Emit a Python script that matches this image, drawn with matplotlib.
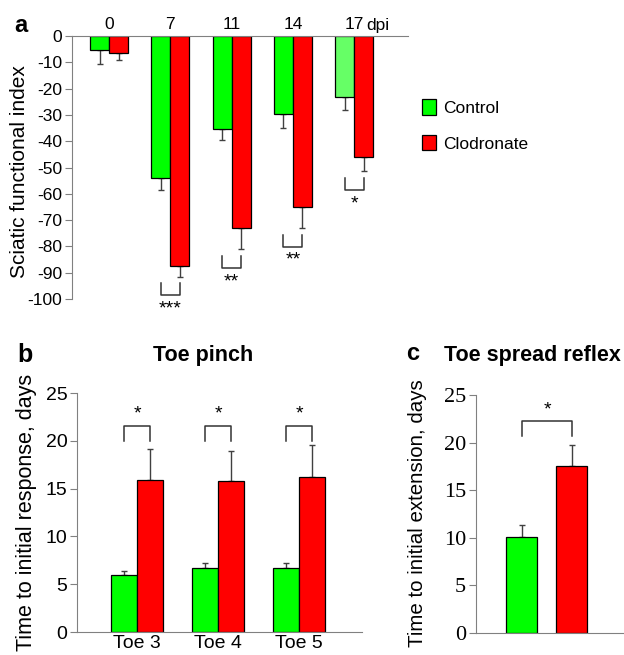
import matplotlib
matplotlib.use('Agg')
import matplotlib.pyplot as plt
from matplotlib.patches import Patch

plt.rcParams['font.family'] = 'Liberation Sans'
plt.rcParams['axes.unicode_minus'] = False

# Panel a: sciatic functional index
days = ['0', '7', '11', '14', '17']
sfi_control = [-5.5, -54, -35.5, -29.5, -23]
sfi_control_err = [5, 4.5, 4, 5.5, 5]
sfi_clodronate = [-6.5, -87.5, -73, -65, -46]
sfi_clodronate_err = [2.5, 4, 8, 8, 5.5]
sfi_stars = ['', '***', '**', '**', '*']

# Panel b: toe pinch
toes = ['Toe 3', 'Toe 4', 'Toe 5']
pinch_control = [6.0, 6.7, 6.7]
pinch_control_err = [0.4, 0.5, 0.5]
pinch_clodronate = [15.9, 15.8, 16.2]
pinch_clodronate_err = [3.2, 3.1, 3.4]
pinch_stars = ['*', '*', '*']

# Panel c: toe spread reflex
spread_control = [10.1]
spread_control_err = [1.2]
spread_clodronate = [17.5]
spread_clodronate_err = [2.2]
spread_stars = ['*']

green = '#00ff00'
light_green = '#66ff66'
red = '#ff0000'
gray = '#808080'
errc = '#404040'

fig = plt.figure(figsize=(6.24, 6.55), dpi=100)

# ---------------- panel a ----------------
ax1 = fig.add_axes([0.1154, 0.5435, 0.5385, 0.4015])
x = list(range(len(days)))
w = 0.31
ctrl_colors = [green] * (len(days) - 1) + [light_green]
ax1.bar([i - w / 2 for i in x], sfi_control, w, color=ctrl_colors, edgecolor='black', linewidth=0.9, zorder=2)
ax1.bar([i + w / 2 for i in x], sfi_clodronate, w, color=red, edgecolor='black', linewidth=0.9, zorder=2)
ax1.errorbar([i - w / 2 for i in x], sfi_control, yerr=[sfi_control_err, [0] * len(x)], fmt='none',
             ecolor=errc, elinewidth=1, capsize=2.5, capthick=1, zorder=1)
ax1.errorbar([i + w / 2 for i in x], sfi_clodronate, yerr=[sfi_clodronate_err, [0] * len(x)], fmt='none',
             ecolor=errc, elinewidth=1, capsize=2.5, capthick=1, zorder=1)

# significance brackets (opening upward, below the bars)
for i, s in enumerate(sfi_stars):
    if not s:
        continue
    top = sfi_clodronate[i] - sfi_clodronate_err[i] - 2.5
    bot = top - 4.6
    ax1.plot([i - w / 2, i - w / 2, i + w / 2, i + w / 2], [top, bot, bot, top], color='#333333', lw=1.1)
    ax1.text(i, bot - 2.0, s, ha='center', va='top', fontsize=14)

ax1.set_xlim(-0.604, 4.88)
ax1.set_ylim(-100, 0)
ax1.set_yticks(range(-100, 1, 10))
ax1.xaxis.tick_top()
ax1.set_xticks(x)
ax1.set_xticklabels(days)
ax1.tick_params(axis='x', length=0, labelsize=12.5, pad=3)
ax1.tick_params(axis='y', length=5, color=gray, labelsize=12.5, pad=2)
ax1.text(4.2, 1.2, 'dpi', ha='left', va='bottom', fontsize=12.5)
for sp in ['right', 'bottom']:
    ax1.spines[sp].set_visible(False)
for sp in ['left', 'top']:
    ax1.spines[sp].set_color(gray)
ax1.set_ylabel('Sciatic functional index', fontsize=15)
ax1.yaxis.set_label_coords(-0.128, 0.485)

handles = [Patch(facecolor=green, edgecolor='black', linewidth=0.9, label='Control'),
           Patch(facecolor=red, edgecolor='black', linewidth=0.9, label='Clodronate')]
fig.legend(handles=handles, loc='upper left', bbox_to_anchor=(422 / 624, 1 - 99 / 655), frameon=False,
           fontsize=12.5, handlelength=0.78, handleheight=1.0, handletextpad=0.45, labelspacing=1.1,
           borderpad=0, borderaxespad=0)

# ---------------- panel b ----------------
ax2 = fig.add_axes([0.1234, 0.0351, 0.4567, 0.3649])
xb = list(range(len(toes)))
wb = 0.32
ax2.bar([i - wb / 2 for i in xb], pinch_control, wb, color=green, edgecolor='black', linewidth=0.9, zorder=2)
ax2.bar([i + wb / 2 for i in xb], pinch_clodronate, wb, color=red, edgecolor='black', linewidth=0.9, zorder=2)
ax2.errorbar([i - wb / 2 for i in xb], pinch_control, yerr=[[0] * len(xb), pinch_control_err], fmt='none',
             ecolor=errc, elinewidth=1, capsize=2.5, capthick=1, zorder=1)
ax2.errorbar([i + wb / 2 for i in xb], pinch_clodronate, yerr=[[0] * len(xb), pinch_clodronate_err], fmt='none',
             ecolor=errc, elinewidth=1, capsize=2.5, capthick=1, zorder=1)
for i, s in enumerate(pinch_stars):
    ax2.plot([i - wb / 2, i - wb / 2, i + wb / 2, i + wb / 2], [20.0, 21.5, 21.5, 20.0], color='#333333', lw=1.1)
    ax2.text(i, 21.9, s, ha='center', va='bottom', fontsize=14)
ax2.set_xlim(-0.741, 2.778)
ax2.set_ylim(0, 25)
ax2.set_yticks(range(0, 26, 5))
ax2.set_xticks(xb)
ax2.set_xticklabels(toes)
ax2.tick_params(axis='x', length=0, labelsize=14, pad=2)
ax2.tick_params(axis='y', length=5, color=gray, labelsize=14, pad=2)
for sp in ['right', 'top']:
    ax2.spines[sp].set_visible(False)
for sp in ['left', 'bottom']:
    ax2.spines[sp].set_color(gray)
ax2.set_ylabel('Time to initial response, days', fontsize=15.5)
ax2.yaxis.set_label_coords(-0.139, 0.5)

# ---------------- panel c ----------------
ax3 = fig.add_axes([0.7628, 0.0336, 0.2372, 0.3634])
wc = 0.62
ax3.bar([0], spread_control, wc, color=green, edgecolor='black', linewidth=0.9, zorder=2)
ax3.bar([1], spread_clodronate, wc, color=red, edgecolor='black', linewidth=0.9, zorder=2)
ax3.errorbar([0], spread_control, yerr=[[0], spread_control_err], fmt='none',
             ecolor=errc, elinewidth=1, capsize=2.5, capthick=1, zorder=1)
ax3.errorbar([1], spread_clodronate, yerr=[[0], spread_clodronate_err], fmt='none',
             ecolor=errc, elinewidth=1, capsize=2.5, capthick=1, zorder=1)
ax3.plot([0, 0, 1, 1], [20.7, 22.3, 22.3, 20.7], color='#333333', lw=1.1)
ax3.text(0.5, 22.5, spread_stars[0], ha='center', va='bottom', fontsize=14)
ax3.set_xlim(-0.92, 2.04)
ax3.set_ylim(0, 25)
ax3.set_yticks(range(0, 26, 5))
ax3.set_xticks([])
ax3.tick_params(axis='y', length=5, color=gray, labelsize=16, pad=2)
for lab in ax3.get_yticklabels():
    lab.set_family('Liberation Serif')
for sp in ['right', 'top']:
    ax3.spines[sp].set_visible(False)
for sp in ['left', 'bottom']:
    ax3.spines[sp].set_color(gray)
ax3.set_ylabel('Time to initial extension, days', fontsize=14.8)
ax3.yaxis.set_label_coords(-0.33, 0.504)

# panel letters and titles
fig.text(21 / 624, 1 - 25 / 655, 'a', fontsize=17, fontweight='bold', ha='center', va='center')
fig.text(25 / 624, 1 - 355 / 655, 'b', fontsize=18, fontweight='bold', ha='center', va='center')
fig.text(413 / 624, 1 - 354 / 655, 'c', fontsize=17, fontweight='bold', ha='center', va='center')
fig.text(203 / 624, 1 - 355 / 655, 'Toe pinch', fontsize=15.5, fontweight='bold', ha='center', va='center')
fig.text(532 / 624, 1 - 355 / 655, 'Toe spread reflex', fontsize=15.5, fontweight='bold', ha='center', va='center')

fig.savefig('out.png', dpi=100)
